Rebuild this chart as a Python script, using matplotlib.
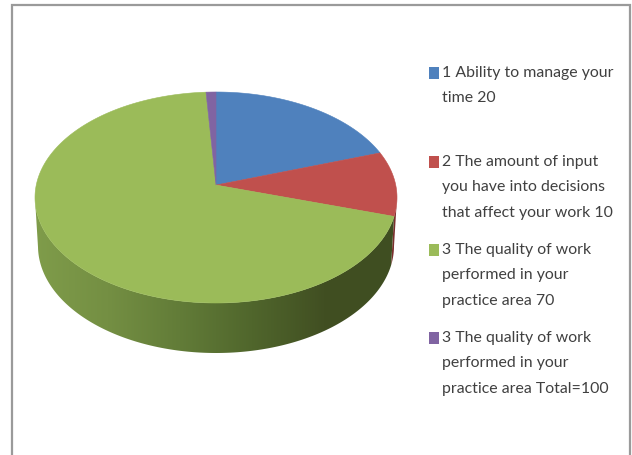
import numpy as np
import matplotlib
matplotlib.use('Agg')
import matplotlib.pyplot as plt
from matplotlib.colors import LinearSegmentedColormap
from matplotlib.patches import Polygon, Rectangle

# values, the last slice is only a sliver
values = [20, 10, 70, 1]
colors = ['#4F81BD', '#C0504D', '#9BBB59', '#8064A2']
labels = ['1 Ability to manage your\ntime 20',
          '2 The amount of input\nyou have into decisions\nthat affect your work 10',
          '3 The quality of work\nperformed in your\npractice area 70',
          '3 The quality of work\nperformed in your\npractice area Total=100']
side_shades = ['#7F9C4A', '#748F43', '#627C38', '#50662C', '#414F22', '#3F4E21']

plt.rcParams['font.family'] = ['Lato', 'DejaVu Sans']

fig = plt.figure(figsize=(6.32, 4.55), dpi=100)
ax = fig.add_axes([0, 0, 1, 1])

# pie geometry in pixels
cx, cy, rx, ry = 216, 197.5, 181, 105.5
depth, rx_low, ry_low = 48.5, 178, 107
tilt = 0.118


def project(theta):
    # tilted circle: the apex sits above the middle of the ellipse
    u, v = np.cos(theta), np.sin(theta)
    d = 1 + tilt * v
    return u * np.sqrt(1 - tilt ** 2) / d, (v + tilt) / d


def top_xy(u, v):
    return cx + rx * u, cy - ry * v


def low_xy(u, v):
    return cx + rx_low * u, cy + depth - ry_low * v


fracs = np.array(values) / sum(values)
edges = np.radians(90 - 360 * np.concatenate([[0], np.cumsum(fracs)]))

# side wall first, the top is drawn over it
for i in range(len(values)):
    t = np.linspace(edges[i], edges[i + 1], 400)
    u, v = project(t)
    keep = v < 0
    if not keep.any():
        continue
    xt, yt = top_xy(u[keep], v[keep])
    xb, yb = low_xy(u[keep], v[keep])
    pts = np.column_stack([np.r_[xt, xb[::-1]], np.r_[yt, yb[::-1]]])
    if colors[i] == '#9BBB59':
        poly = Polygon(pts, closed=True, fc='none', ec='none')
        ax.add_patch(poly)
        cmap = LinearSegmentedColormap.from_list('side', side_shades)
        im = ax.imshow(np.linspace(0, 1, 256)[None, :], cmap=cmap, aspect='auto',
                       extent=[35, 397, 355, 190], zorder=1)
        im.set_clip_path(poly)
    else:
        ax.add_patch(Polygon(pts, closed=True, fc='#7A2F2D', ec='none', zorder=1))

# top face
apex_x, apex_y = cx, cy - ry * tilt
for i in range(len(values)):
    t = np.linspace(edges[i], edges[i + 1], 300)
    x, y = top_xy(*project(t))
    pts = np.column_stack([np.r_[apex_x, x], np.r_[apex_y, y]])
    ax.add_patch(Polygon(pts, closed=True, fc=colors[i], ec=colors[i], lw=0.4, zorder=2))

# legend
text_color = '#404040'
line_tops = [73, 162, 250, 338]
for label, col, y0 in zip(labels, colors, line_tops):
    ax.add_patch(Rectangle((428.5, y0 - 6), 10, 12, fc=col, ec='none', zorder=3))
    for n, line in enumerate(label.split('\n')):
        ax.text(442, y0 + n * 25.5, line, fontsize=11.4, color=text_color,
                ha='left', va='center', zorder=3)

# chart frame, the bottom edge is cut off in the picture
ax.plot([12, 12, 630, 630], [455, 5, 5, 455], color='#9A9A9A', lw=1.6,
        solid_joinstyle='miter', zorder=4)

ax.set_xlim(0, 632)
ax.set_ylim(455, 0)
ax.axis('off')
fig.savefig('out.png', dpi=100, facecolor='white')
